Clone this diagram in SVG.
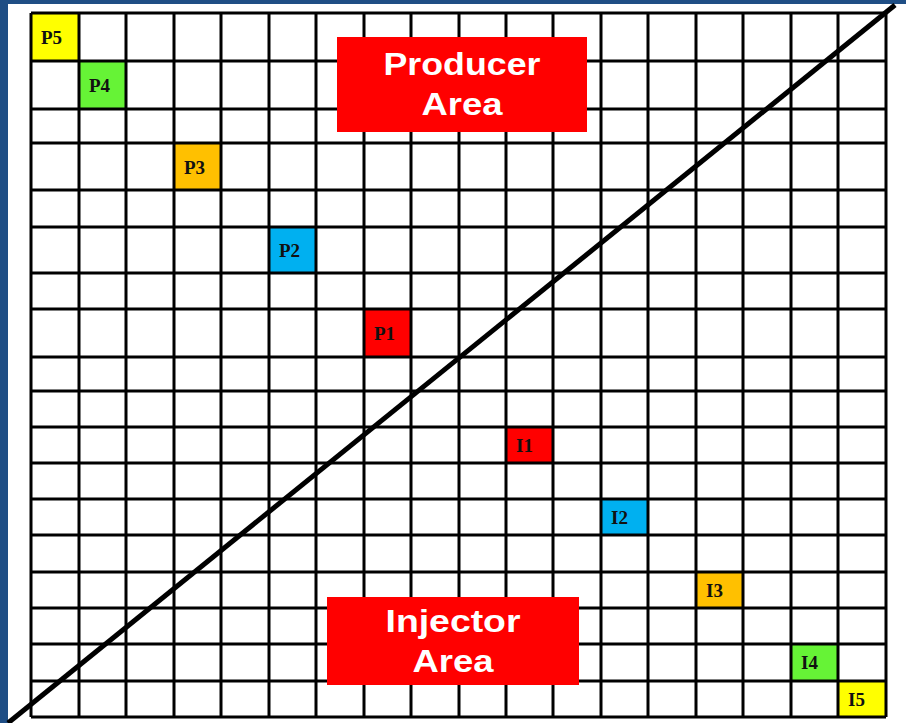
<svg xmlns="http://www.w3.org/2000/svg" width="906" height="723" viewBox="0 0 906 723">
<style>
.grid{fill:none;stroke:#000;stroke-width:3}
.lbl{font-family:"Liberation Serif","Times New Roman",serif;font-weight:bold;font-size:19px;fill:#111}
.area{font-family:"Liberation Sans",Arial,sans-serif;font-weight:bold;font-size:31px;fill:#fff;text-anchor:middle}
.yel{fill:#FFFF00}.grn{fill:#66F336}.org{fill:#FFC000}.blu{fill:#00B0F0}.red{fill:#FF0000}
</style>
<rect x="0" y="0" width="906" height="723" fill="#1F4E85"/>
<rect x="8" y="4" width="898" height="719" fill="#fff"/>
<g id="P5"><rect class="yel" x="31" y="13" width="48" height="48"/><text class="lbl" x="41" y="44">P5</text></g>
<g id="P4"><rect class="grn" x="79" y="61" width="47" height="48"/><text class="lbl" x="89" y="92">P4</text></g>
<g id="P3"><rect class="org" x="174" y="143" width="47" height="47"/><text class="lbl" x="184" y="174">P3</text></g>
<g id="P2"><rect class="blu" x="269" y="227" width="47" height="46"/><text class="lbl" x="279" y="257">P2</text></g>
<g id="P1"><rect class="red" x="364" y="309" width="47" height="48"/><text class="lbl" x="374" y="340">P1</text></g>
<g id="I1"><rect class="red" x="506" y="427" width="47" height="36"/><text class="lbl" x="516" y="452">I1</text></g>
<g id="I2"><rect class="blu" x="601" y="499" width="47" height="36"/><text class="lbl" x="611" y="524">I2</text></g>
<g id="I3"><rect class="org" x="696" y="572" width="47" height="36"/><text class="lbl" x="706" y="597">I3</text></g>
<g id="I4"><rect class="grn" x="791" y="644" width="47" height="37"/><text class="lbl" x="801" y="669">I4</text></g>
<g id="I5"><rect class="yel" x="838" y="681" width="48" height="36"/><text class="lbl" x="848" y="706">I5</text></g>
<g id="grid">
<path class="grid" d="M31 13H886M31 61H886M31 109H886M31 143H886M31 190H886M31 227H886M31 273H886M31 309H886M31 357H886M31 391H886M31 427H886M31 463H886M31 499H886M31 535H886M31 572H886M31 608H886M31 644H886M31 681H886M31 717H886"/>
<path class="grid" d="M31 13V717M79 13V717M126 13V717M174 13V717M221 13V717M269 13V717M316 13V717M364 13V717M411 13V717M459 13V717M506 13V717M553 13V717M601 13V717M648 13V717M696 13V717M743 13V717M791 13V717M838 13V717M886 13V717"/>
</g>
<g id="connectors">
<line x1="8" y1="723" x2="895" y2="5" stroke="#000" stroke-width="5"/>
</g>
<g id="producer-area">
<rect class="red" x="337" y="37" width="250" height="95"/>
<text class="area" x="462" y="75" textLength="157" lengthAdjust="spacingAndGlyphs">Producer</text>
<text class="area" x="462" y="115" textLength="81" lengthAdjust="spacingAndGlyphs">Area</text>
</g>
<g id="injector-area">
<rect class="red" x="327" y="597" width="252" height="88"/>
<text class="area" x="453" y="632" textLength="135" lengthAdjust="spacingAndGlyphs">Injector</text>
<text class="area" x="453" y="672" textLength="81" lengthAdjust="spacingAndGlyphs">Area</text>
</g>
</svg>
